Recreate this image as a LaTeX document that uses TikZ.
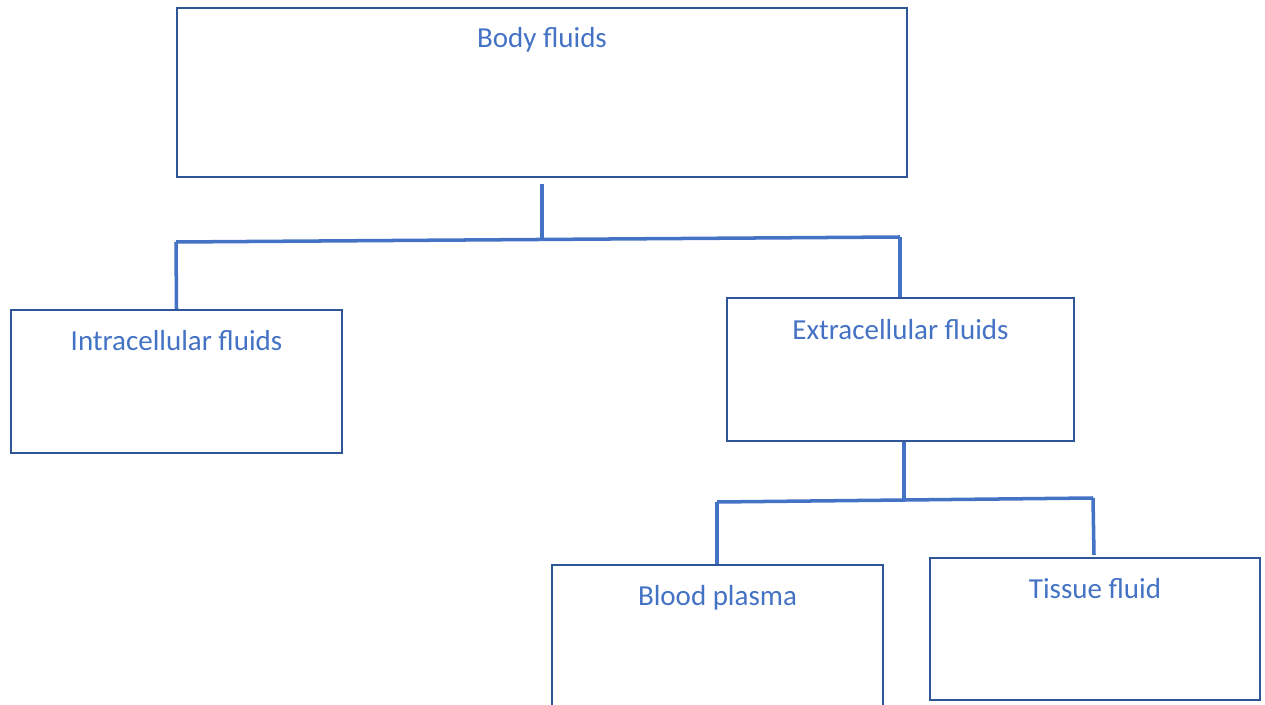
\documentclass[tikz,border=0pt]{standalone}
\usepackage{fontspec}
\setmainfont{Carlito}
\usetikzlibrary{positioning}
\definecolor{boxblue}{HTML}{2F5597}
\definecolor{lineblue}{HTML}{4472C4}
\tikzset{fluidbox/.style={rectangle, draw=boxblue, line width=1.4pt, inner sep=0pt},
fluidtext/.style={text=lineblue, anchor=base, inner sep=0pt, font=\fontsize{16.5}{20}\selectfont},
branch/.style={draw=lineblue, line width=2pt}}

\begin{document}
\begin{tikzpicture}[x=0.02cm, y=-0.02cm]
\useasboundingbox (0,0) rectangle (1265,705);

\node(body)[fluidbox, minimum width=14.6cm, minimum height=3.38cm] at (542,92.5){};
\node(intra)[fluidbox, minimum width=6.62cm, minimum height=2.86cm] at (176.5,381.5){};
\node(extra)[fluidbox, minimum width=6.94cm, minimum height=2.86cm] at (900.5,369.5){};
\node(blood)[fluidbox, minimum width=6.62cm, minimum height=2.86cm] at (717.5,636.5){};
\node(tissue)[fluidbox, minimum width=6.6cm, minimum height=2.84cm] at (1095,629){};

\node(bodytxt)[fluidtext] at ([yshift=-0.82cm]body.north){Body fluids};
\node(intratxt)[fluidtext] at ([yshift=-0.84cm]intra.north){Intracellular fluids};
\node(extratxt)[fluidtext] at ([yshift=-0.86cm]extra.north){Extracellular fluids};
\node(bloodtxt)[fluidtext] at ([yshift=-0.84cm]blood.north){Blood plasma};
\node(tissuetxt)[fluidtext] at ([yshift=-0.84cm]tissue.north){Tissue fluid};

\coordinate(bodyjoin) at (542,240);
\coordinate(intrajoin) at (176,242);
\coordinate(extrajoin) at (900,237);
\coordinate(extradown) at (904,499);
\coordinate(bloodjoin) at (717,502);
\coordinate(tissuejoin) at (1093,498);
\coordinate(tissueend) at (1094,555);

\draw[branch]([yshift=-0.12cm]body.south) -- (bodyjoin);
\draw[branch](intrajoin) -- (extrajoin);
\draw[branch](intrajoin) -- (intra.north);
\draw[branch](extrajoin) -- (extrajoin |- extra.north);
\draw[branch](extradown |- extra.south) -- (extradown);
\draw[branch](bloodjoin) -- (tissuejoin);
\draw[branch](bloodjoin) -- (bloodjoin |- blood.north);
\draw[branch](tissuejoin) -- (tissueend);

\end{tikzpicture}
\end{document}
